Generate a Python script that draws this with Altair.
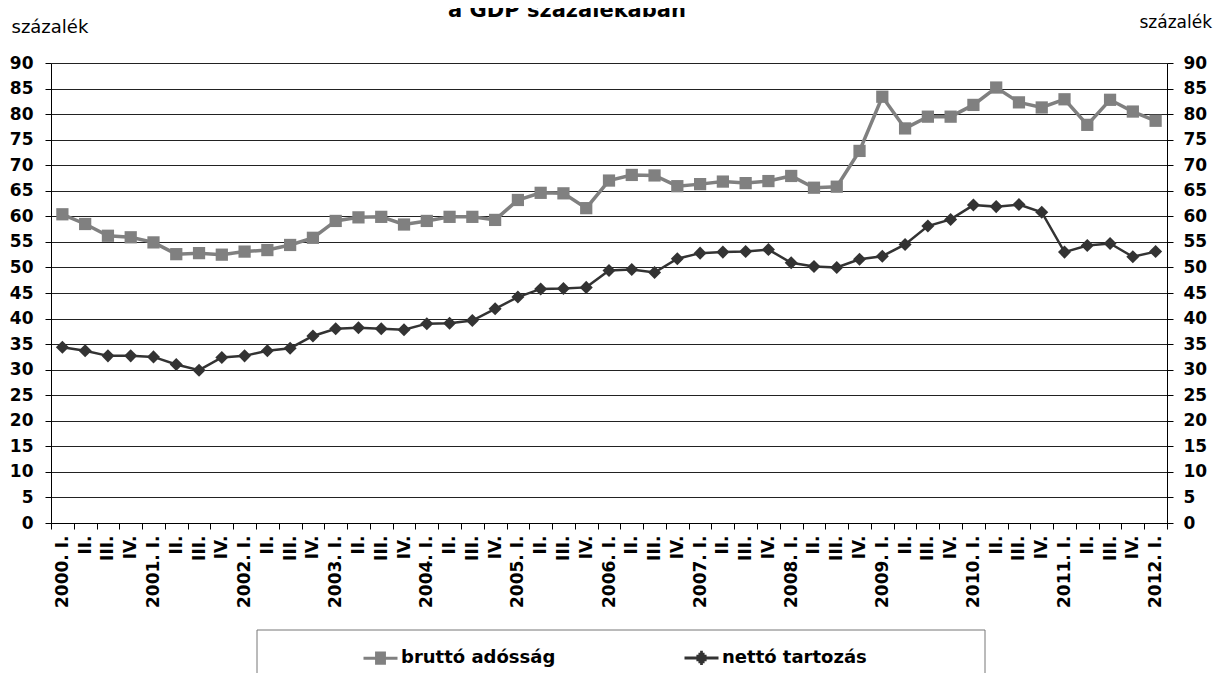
import altair as alt
import pandas as pd

years = list(range(2000, 2012))
quarter_labels = []
for yr in years:
    quarter_labels += [f"{yr}. I.", "II.", "III.", "IV."]
quarter_labels += ["2012. I."]

brutto = [60.4, 58.5, 56.2, 55.9, 54.9, 52.6, 52.8, 52.5, 53.1, 53.4, 54.4, 55.8,
          59.1, 59.8, 59.9, 58.4, 59.1, 59.9, 59.9, 59.3, 63.2, 64.6, 64.5, 61.6,
          67.0, 68.1, 68.0, 65.9, 66.3, 66.8, 66.5, 66.9, 67.9, 65.6, 65.8, 72.8,
          83.4, 77.2, 79.5, 79.5, 81.8, 85.2, 82.3, 81.3, 82.9, 77.9, 82.8, 80.5, 78.7]
netto = [34.4, 33.7, 32.7, 32.7, 32.5, 31.0, 29.9, 32.4, 32.7, 33.7, 34.2, 36.6,
         38.0, 38.2, 38.0, 37.8, 39.0, 39.1, 39.6, 41.9, 44.2, 45.8, 45.9, 46.1,
         49.4, 49.6, 49.0, 51.7, 52.8, 53.0, 53.1, 53.5, 50.9, 50.2, 50.0, 51.6,
         52.2, 54.5, 58.1, 59.4, 62.2, 61.9, 62.3, 60.8, 53.0, 54.3, 54.7, 52.1, 53.1]
series_names = ["bruttó adósság", "nettó tartozás"]
series_colors = ["#808080", "#333333"]
title_text = "a GDP százalékában"

rows = []
for i, lab in enumerate(quarter_labels):
    rows.append({"idx": i, "series": series_names[0], "value": brutto[i]})
    rows.append({"idx": i, "series": series_names[1], "value": netto[i]})
df = pd.DataFrame(rows)

label_array = "[" + ",".join("'" + s + "'" for s in quarter_labels) + "]"
FONT = "DejaVu Sans"

x_enc = alt.X(
    "idx:O",
    scale=alt.Scale(type="band", paddingInner=0, paddingOuter=0),
    axis=alt.Axis(
        title=None, labelExpr=label_array + "[datum.value]", labelAngle=-90,
        labelAlign="right", labelBaseline="middle", labelFont=FONT,
        labelFontWeight="bold", labelFontSize=17, labelColor="#000",
        tickBand="extent", tickSize=6, tickColor="#000", domainColor="#000",
        labelPadding=6, grid=False, labelOverlap=False,
    ),
)
y_scale = alt.Scale(domain=[0, 90], nice=False, zero=True)
yvals = list(range(0, 95, 5))

left_axis = alt.Axis(
    values=yvals, title="százalék", titleAngle=0, titleX=-40, titleY=-36,
    titleAlign="left", titleBaseline="middle", titleFont=FONT, titleFontSize=18,
    titleFontWeight="normal", titleColor="#000",
    labelFont=FONT, labelFontWeight="bold", labelFontSize=17, labelColor="#000",
    tickSize=6, tickColor="#000", domainColor="#000", labelPadding=12,
    grid=True, gridColor="#222", gridWidth=1,
)
right_axis = alt.Axis(
    values=yvals, orient="right", title="százalék", titleAngle=0, titleX=-28, titleY=-41,
    titleAlign="left", titleBaseline="middle", titleFont=FONT, titleFontSize=17,
    titleFontWeight="normal", titleColor="#000",
    labelFont=FONT, labelFontWeight="bold", labelFontSize=17, labelColor="#000",
    tickSize=6, tickColor="#000", domainColor="#000", labelPadding=10,
    grid=False,
)

base = alt.Chart(df)

line_b = base.transform_filter(alt.datum.series == series_names[0]).mark_line(
    color=series_colors[0], strokeWidth=3.5
).encode(x=x_enc, y=alt.Y("value:Q", scale=y_scale, axis=left_axis))

line_n = base.transform_filter(alt.datum.series == series_names[1]).mark_line(
    color=series_colors[1], strokeWidth=2.5
).encode(x=x_enc, y=alt.Y("value:Q", scale=y_scale, axis=None))

pts_b = base.transform_filter(alt.datum.series == series_names[0]).mark_point(
    shape="square", filled=True, size=150, opacity=1, color=series_colors[0]
).encode(x=x_enc, y=alt.Y("value:Q", scale=y_scale, axis=right_axis))

pts_n = base.transform_filter(alt.datum.series == series_names[1]).mark_point(
    shape="diamond", filled=True, size=170, opacity=1, color=series_colors[1]
).encode(x=x_enc, y=alt.Y("value:Q", scale=y_scale, axis=None))

sq_path = "M-1,0H1M-0.32,-0.3H0.32M-0.32,-0.15H0.32M-0.32,0H0.32M-0.32,0.15H0.32M-0.32,0.3H0.32"
dm_path = "M-1,0H1M-0.08,-0.33H0.08M-0.18,-0.22H0.18M-0.3,-0.1H0.3M-0.3,0.1H0.3M-0.18,0.22H0.18M-0.08,0.33H0.08"

legend_props = dict(
    title=None, orient="none", direction="horizontal",
    legendX=311, legendY=576, symbolSize=1156, symbolOpacity=1,
    symbolStrokeWidth=3, labelFont=FONT, labelFontSize=18,
    labelFontWeight="bold", labelColor="#000", columnPadding=122,
    labelOffset=2,
)

legend_layer = base.mark_point(filled=False, opacity=0, strokeWidth=3).encode(
    x=x_enc,
    y=alt.Y("value:Q", scale=y_scale, axis=None),
    color=alt.Color("series:N", scale=alt.Scale(domain=series_names, range=series_colors),
                    legend=alt.Legend(**legend_props)),
    shape=alt.Shape("series:N", scale=alt.Scale(domain=series_names, range=[sq_path, dm_path]),
                    legend=alt.Legend(**legend_props)),
)

deco = pd.DataFrame({"k": [0]})
box = alt.Chart(deco).mark_rect(
    fill=None, stroke="#777", strokeWidth=1, clip=False
).encode(x=alt.value(206), x2=alt.value(934), y=alt.value(567), y2=alt.value(640))

title_mark = alt.Chart(deco).mark_text(
    text=title_text, font=FONT, fontSize=21, fontWeight="bold", color="#000",
    align="center", baseline="alphabetic", clip=False
).encode(x=alt.value(516), y=alt.value(-46))

chart = alt.layer(line_b, line_n, pts_b, pts_n, legend_layer, box, title_mark).resolve_axis(
    y="independent"
).properties(
    width=1116, height=460,
    autosize=alt.AutoSizeParams(type="none"),
    padding={"left": 43, "top": 55, "right": 49, "bottom": 150},
).configure_view(stroke=None).configure(background="white")

chart.save("out.html", embed_options={"renderer": "svg", "actions": False})
